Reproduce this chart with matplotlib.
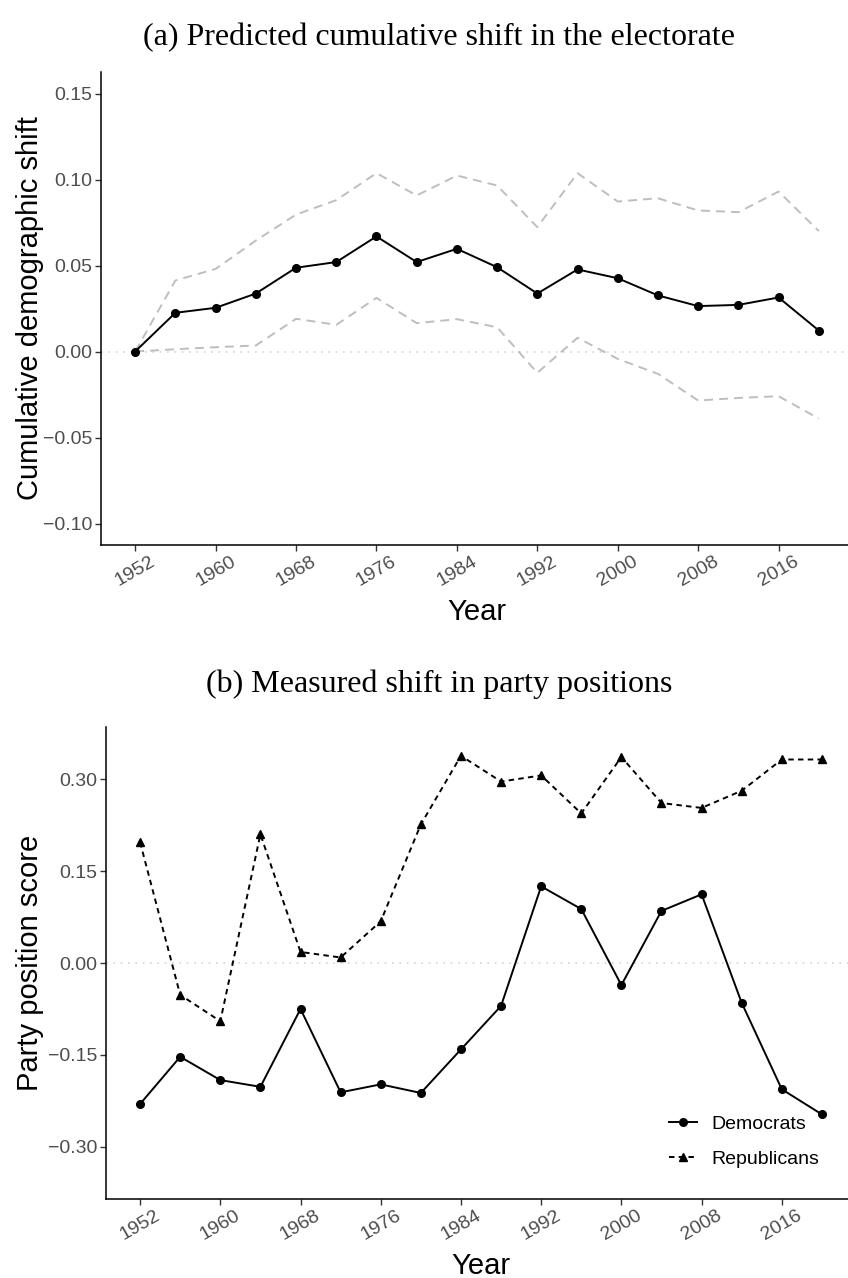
import numpy as np
import matplotlib
matplotlib.use("Agg")
import matplotlib.pyplot as plt

plt.rcParams['font.family'] = ['Liberation Sans', 'DejaVu Sans']

years = list(range(1952, 2021, 4))

# panel (a): cumulative demographic shift with upper/lower bounds
shift = [0.000, 0.0225, 0.0254, 0.0337, 0.0487, 0.0520, 0.0669, 0.0520, 0.0597,
         0.0490, 0.0337, 0.0477, 0.0426, 0.0326, 0.0264, 0.0271, 0.0314, 0.0122]
shift_hi = [0.000, 0.0413, 0.0480, 0.0645, 0.0796, 0.0880, 0.1037, 0.0907, 0.1023,
            0.0965, 0.0723, 0.1037, 0.0872, 0.0891, 0.0820, 0.0810, 0.0930, 0.0700]
shift_lo = [0.000, 0.0013, 0.0025, 0.0035, 0.0190, 0.0155, 0.0312, 0.0165, 0.0188,
            0.0141, -0.0124, 0.0080, -0.0043, -0.0130, -0.0285, -0.0270, -0.0260, -0.0390]

# panel (b): party position scores
dem = [-0.230, -0.153, -0.191, -0.202, -0.075, -0.211, -0.198, -0.212, -0.141,
       -0.070, 0.125, 0.088, -0.036, 0.085, 0.112, -0.065, -0.206, -0.247]
rep = [0.197, -0.052, -0.095, 0.210, 0.018, 0.009, 0.068, 0.226, 0.338,
       0.296, 0.306, 0.244, 0.336, 0.261, 0.253, 0.281, 0.332, 0.332]

xticks = list(range(1952, 2017, 8))
title_a = "(a) Predicted cumulative shift in the electorate"
title_b = "(b) Measured shift in party positions"

W, H = 848, 1278
fig = plt.figure(figsize=(W / 100, H / 100), dpi=100)

def px_axes(left, top, right, bottom):
    return fig.add_axes([left / W, 1 - bottom / H, (right - left) / W, (bottom - top) / H])

def style(ax, yticks, ylim, ylabel):
    ax.set_xlim(1948.6, 2023.4)
    ax.set_ylim(*ylim)
    ax.set_xticks(xticks)
    ax.set_yticks(yticks)
    ax.set_yticklabels([f"{t:.2f}".replace("-", "\u2212") for t in yticks])
    for s in ['top', 'right']:
        ax.spines[s].set_visible(False)
    for s in ['left', 'bottom']:
        ax.spines[s].set_linewidth(1.1)
    ax.tick_params(length=4, width=1.0, color='#333333', labelcolor='#4D4D4D',
                   labelsize=14, pad=2)
    for lab in ax.get_xticklabels():
        lab.set_rotation(30)
        lab.set_ha('center')
    ax.axhline(0, color='#D3D3D3', lw=1.1, ls=(0, (1.2, 3.6)), zorder=0)
    ax.set_xlabel("Year", fontsize=21, va='center')
    ax.xaxis.set_label_coords(0.5, -0.142)
    ax.set_ylabel(ylabel, fontsize=21, va='center')

# --- panel (a)
ax1 = px_axes(101, 72, 853, 545)
style(ax1, [-0.10, -0.05, 0.00, 0.05, 0.10, 0.15], (-0.1125, 0.1625),
      "Cumulative demographic shift")
ax1.yaxis.set_label_coords((30 - 101) / 752, 0.5)
ax1.plot(years, shift_hi, color='#BEBEBE', lw=1.4, ls=(0, (4.6, 3.1)))
ax1.plot(years, shift_lo, color='#BEBEBE', lw=1.4, ls=(0, (4.6, 3.1)))
ax1.plot(years, shift, color='black', lw=1.4, marker='o', ms=5.5)

# --- panel (b)
ax2 = px_axes(106, 727, 856, 1199)
style(ax2, [-0.30, -0.15, 0.00, 0.15, 0.30], (-0.385, 0.385), "Party position score")
ax2.yaxis.set_label_coords((30 - 106) / 750, 0.5)
ax2.plot(years, dem, color='black', lw=1.4, marker='o', ms=5.5, label='Democrats')
ax2.plot(years, rep, color='black', lw=1.4, ls=(0, (2.8, 2.2)), marker='^', ms=6,
         label='Republicans')
ax2.legend(loc='upper left', bbox_to_anchor=((669 - 106) / 750, (1199 - 1115) / 472),
           frameon=False, fontsize=14, handlelength=1.45, handletextpad=0.75,
           labelspacing=0.9, borderpad=0, borderaxespad=0)

fig.text(439 / W, 1 - 38 / H, title_a, family='Liberation Serif', fontsize=23,
         ha='center', va='center')
fig.text(439 / W, 1 - 684 / H, title_b, family='Liberation Serif', fontsize=23,
         ha='center', va='center')

fig.savefig("out.png", dpi=100)
